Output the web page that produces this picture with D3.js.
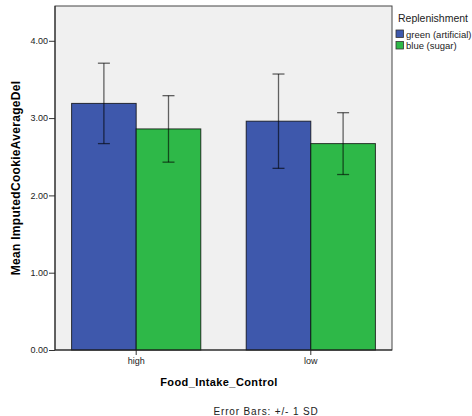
<!DOCTYPE html>
<html lang="en">
<head>
  <meta charset="UTF-8">
  <title>Mean ImputedCookieAverageDel by Food_Intake_Control</title>
  <script src="https://d3js.org/d3.v7.min.js"></script>
  <style>
    body {
      margin: 0;
      background: #fff;
      font-family: Arial, "Liberation Sans", sans-serif;
    }
    svg {
      display: block;
    }
    .tick-label {
      font-size: 9px;
      fill: #222;
    }
    .axis-title {
      font-size: 11px;
      font-weight: bold;
      fill: #000;
    }
    .legend text {
      fill: #222;
    }
  </style>
</head>
<body>
  <svg id="chart" width="472" height="416"></svg>

  <script>
    // data
    const categories = ["high", "low"];
    const groups = ["green (artificial)", "blue (sugar)"];
    const means = [
      [3.19, 2.86],   // high
      [2.96, 2.67]    // low
    ];
    const sds = [
      [0.52, 0.43],
      [0.61, 0.40]
    ];
    const yTicks = [0, 1, 2, 3, 4];
    const colors = ["#3e58ac", "#2eb848"];

    const svg = d3.select("#chart");
    const plot = { left: 55, top: 6, right: 392, bottom: 350 };

    const x = d3.scaleBand()
      .domain(categories)
      .range([plot.left, plot.right])
      .paddingInner(0.26)
      .paddingOuter(0.095);

    const xSub = d3.scaleBand()
      .domain(groups)
      .range([0, x.bandwidth()]);

    const y = d3.scaleLinear()
      .domain([0, 4.45])
      .range([plot.bottom, plot.top]);

    // plot background
    svg.append("rect")
      .attr("x", plot.left)
      .attr("y", plot.top)
      .attr("width", plot.right - plot.left)
      .attr("height", plot.bottom - plot.top)
      .attr("fill", "#f0f0f0")
      .attr("stroke", "#444")
      .attr("stroke-width", 1);

    // bars
    const rows = [];
    categories.forEach((c, i) => {
      groups.forEach((g, j) => {
        rows.push({ cat: c, grp: g, j: j, mean: means[i][j], sd: sds[i][j] });
      });
    });

    const barG = svg.append("g");
    barG.selectAll("rect")
      .data(rows)
      .join("rect")
      .attr("x", d => x(d.cat) + xSub(d.grp))
      .attr("y", d => y(d.mean))
      .attr("width", xSub.bandwidth())
      .attr("height", d => y(0) - y(d.mean))
      .attr("fill", d => colors[d.j])
      .attr("stroke", "rgba(0,0,0,0.75)")
      .attr("stroke-width", 1);

    // error bars (+/- 1 SD)
    const errG = svg.append("g")
      .attr("stroke", "rgba(0,0,0,0.6)")
      .attr("stroke-width", 1.3);
    const cap = 6;
    rows.forEach(d => {
      const cx = x(d.cat) + xSub(d.grp) + xSub.bandwidth() / 2;
      const hi = y(d.mean + d.sd), lo = y(d.mean - d.sd);
      errG.append("line").attr("x1", cx).attr("x2", cx).attr("y1", hi).attr("y2", lo);
      errG.append("line").attr("x1", cx - cap).attr("x2", cx + cap).attr("y1", hi).attr("y2", hi);
      errG.append("line").attr("x1", cx - cap).attr("x2", cx + cap).attr("y1", lo).attr("y2", lo);
    });

    // y axis
    const yAxis = svg.append("g")
      .attr("transform", `translate(${plot.left},0)`)
      .call(d3.axisLeft(y).tickValues(yTicks).tickFormat(d3.format(".2f")).tickSize(6).tickSizeOuter(0));
    yAxis.select(".domain").remove();
    yAxis.selectAll(".tick line").attr("stroke", "#333");
    yAxis.selectAll(".tick text")
      .attr("class", "tick-label")
      .attr("x", -7)
      .attr("font-family", null)
      .attr("font-size", null);

    // x axis
    const xAxis = svg.append("g")
      .attr("transform", `translate(0,${plot.bottom})`)
      .call(d3.axisBottom(x).tickSize(5).tickSizeOuter(0));
    xAxis.select(".domain").remove();
    xAxis.selectAll(".tick line").attr("stroke", "#333");
    xAxis.selectAll(".tick text")
      .attr("class", "tick-label")
      .attr("y", 8)
      .attr("font-family", null)
      .attr("font-size", null);

    // axis lines
    svg.append("line")
      .attr("x1", plot.left).attr("x2", plot.left)
      .attr("y1", plot.top).attr("y2", plot.bottom)
      .attr("stroke", "#222");
    svg.append("line")
      .attr("x1", plot.left).attr("x2", plot.right)
      .attr("y1", plot.bottom).attr("y2", plot.bottom)
      .attr("stroke", "#222");

    // axis titles
    svg.append("text")
      .attr("class", "axis-title")
      .attr("x", 219)
      .attr("y", 386)
      .attr("text-anchor", "middle")
      .style("letter-spacing", "0.4px")
      .text("Food_Intake_Control");

    svg.append("text")
      .attr("class", "axis-title")
      .attr("transform", `translate(20,${(plot.top + plot.bottom) / 2}) rotate(-90)`)
      .attr("text-anchor", "middle")
      .style("font-size", "12px")
      .style("letter-spacing", "0.3px")
      .text("Mean ImputedCookieAverageDel");

    svg.append("text")
      .attr("x", 266)
      .attr("y", 415)
      .attr("text-anchor", "middle")
      .attr("font-size", "10px")
      .attr("fill", "#222")
      .style("letter-spacing", "0.85px")
      .text("Error Bars: +/- 1 SD");

    // legend
    const legend = svg.append("g").attr("class", "legend");
    legend.append("text")
      .attr("x", 398)
      .attr("y", 22)
      .attr("font-size", "10.5px")
      .text("Replenishment");

    const item = legend.selectAll(".item")
      .data(groups)
      .join("g")
      .attr("class", "item")
      .attr("transform", (d, i) => `translate(396,${30 + i * 11.5})`);
    item.append("rect")
      .attr("width", 7.5)
      .attr("height", 7.5)
      .attr("fill", (d, i) => colors[i])
      .attr("stroke", "#333")
      .attr("stroke-width", 0.8);
    item.append("text")
      .attr("x", 10)
      .attr("y", 7.5)
      .attr("font-size", "9.5px")
      .text(d => d);
  </script>
</body>
</html>
